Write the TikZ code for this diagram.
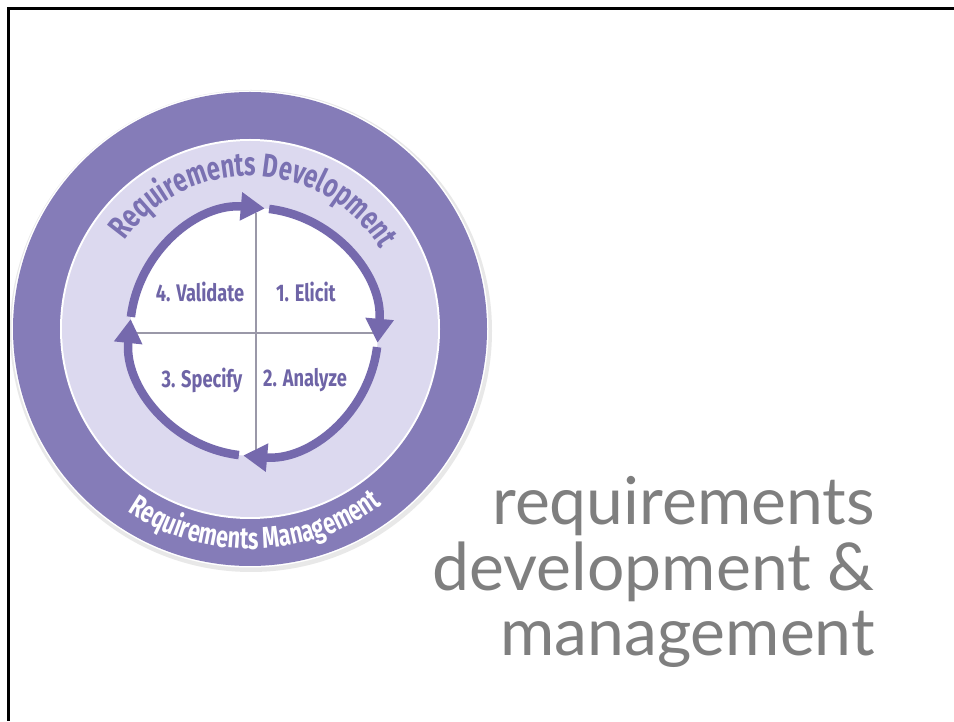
\documentclass[tikz,border=0pt]{standalone}
\usepackage{fontspec}
\usetikzlibrary{arrows.meta,decorations.text}
\newfontfamily\condfont{Fira Sans}[FakeStretch=0.76]
\newfontfamily\ringfont{Fira Sans}[FakeStretch=0.72]
\newfontfamily\titlefont{Lato}
\definecolor{outerpurple}{HTML}{857CB8}
\definecolor{lightlav}{HTML}{DCD9EF}
\definecolor{arrowpurple}{HTML}{7569AD}
\definecolor{quadtext}{HTML}{6E64A6}
\definecolor{rdtext}{HTML}{7A71B2}
\definecolor{titlegray}{HTML}{7F7F7F}
\definecolor{qgray}{HTML}{9A98A8}
\tikzset{
  cyc/.style={draw=arrowpurple, line width=8.5pt, -{Triangle[length=24pt,width=27pt]}},
  quad/.style={font=\condfont\bfseries\fontsize{24}{24}\selectfont, text=quadtext, inner sep=0pt},
  titletext/.style={font=\titlefont\fontsize{66}{66}\selectfont, text=titlegray, inner sep=0pt, anchor=base east},
  qline/.style={draw=qgray, line width=1.2pt},
}
\begin{document}
\begin{tikzpicture}[x=1pt,y=1pt]
\useasboundingbox (0,0) rectangle (954,721);
\fill[white] (0,0) rectangle (954,721);
% frame
\draw[black, line width=3pt] (954,712.5) -- (8.5,712.5) -- (8.5,0);
\coordinate (c) at (250,392);
\coordinate (rc) at (254,389);
% outer disk with faint shadow
\fill[black!9] (251,390) circle (241);
\fill[white] (c) circle (238.5);
\fill[outerpurple] (c) circle (237);
% light disk
\fill[white] (c) circle (190);
\fill[lightlav] (c) circle (188);
% white centre
\fill[white] (rc) circle (124);
% cross
\draw[qline] (256,508) -- (256,270);
\draw[qline] (130,388) -- (380,388);
% cycle arrows
\draw[cyc] (rc) ++(173:124) arc[start angle=173, end angle=85, radius=124];
\draw[cyc] (rc) ++(83:124) arc[start angle=83, end angle=-5, radius=124];
\draw[cyc] (rc) ++(-7:124) arc[start angle=-7, end angle=-95, radius=124];
\draw[cyc] (rc) ++(-97:124) arc[start angle=-97, end angle=-186, radius=124];
% quadrant labels
\node[quad] (q4) at (200,429) {4. Validate};
\node[quad] (q1) at (306,429) {1. Elicit};
\node[quad] (q3) at (202,341) {3. Specify};
\node[quad] (q2) at (305,341) {2. Analyze};
% curved labels
\path[decorate, decoration={text along path, text align=center, text color=rdtext,
  text={|\ringfont\bfseries\fontsize{33}{33}\selectfont|Requirements Development}}]
  (c) ++(152:153) arc[start angle=152, end angle=24, radius=153];
\path[decorate, decoration={text along path, text align=center, text color=white,
  text={|\ringfont\bfseries\fontsize{30}{30}\selectfont|Requirements Management}}]
  (c) ++(228:220) arc[start angle=228, end angle=315, radius=220];
% title
\node[titletext] (t1) at (875,196) {requirements};
\node[titletext] (t2) at (875,130) {development \&};
\node[titletext] (t3) at (875,66) {management};
\end{tikzpicture}
\end{document}
